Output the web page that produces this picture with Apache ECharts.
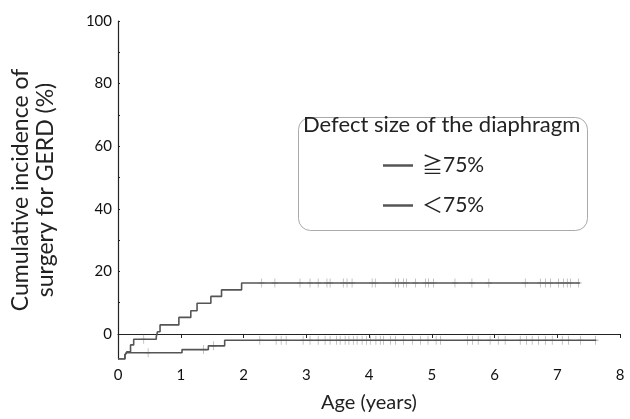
<!DOCTYPE html>
<html>
<head>
<meta charset="utf-8">
<title>GERD surgery</title>
<script src="https://cdn.jsdelivr.net/npm/echarts@6/dist/echarts.min.js"></script>
<style>
html, body { margin: 0; padding: 0; background: #fff; }
#main { width: 630px; height: 419px; }
</style>
</head>
<body>
<div id="main"></div>
<script>
// step curves (age in years, cumulative incidence)
var upperTime = [0, 0.11, 0.14, 0.20, 0.25, 0.61, 0.63, 0.67, 0.97, 1.16, 1.26, 1.48, 1.65, 1.97, 7.36];
var upperValue = [-8, -6.7, -5.7, -3.5, -1.7, -0.9, 0.7, 2.9, 5.3, 7.4, 9.8, 12.0, 14.1, 16.3, 16.3];
var lowerTime = [0, 0.11, 0.14, 1.02, 1.44, 1.70, 7.62];
var lowerValue = [-8, -6.7, -6.0, -5.0, -3.8, -2.0, -2.0];

// censored cases
var upperCensor = [0.41, 2.29, 2.50, 2.90, 3.06, 3.19, 3.33, 3.38, 3.59, 3.65, 3.73, 4.05, 4.10, 4.42, 4.47, 4.55, 4.60, 4.74, 4.90, 4.95, 5.03, 5.37, 5.64, 5.91, 6.49, 6.73, 6.81, 6.89, 7.02, 7.10, 7.16, 7.21, 7.34];
var lowerCensor = [0.48, 1.36, 1.52, 2.26, 2.52, 2.60, 2.68, 2.95, 3.06, 3.19, 3.30, 3.38, 3.48, 3.54, 3.62, 3.68, 3.75, 3.81, 3.89, 3.96, 4.02, 4.11, 4.18, 4.23, 4.34, 4.42, 4.55, 4.69, 4.82, 4.94, 5.07, 5.14, 5.57, 5.65, 5.74, 5.93, 6.06, 6.17, 6.41, 6.51, 6.60, 6.70, 6.81, 6.92, 7.08, 7.18, 7.37, 7.61];

var yLabels = [0, 20, 40, 60, 80, 100];
var yTicks = [0, 10, 20, 30, 40, 50, 60, 70, 80, 90, 100];
var seriesNames = ['≧75%', '＜75%'];

var font = 'Lato, "Noto Sans CJK JP", sans-serif';

function pairs(t, v) {
	var out = [];
	for (var i = 0; i < t.length; i++) out.push([t[i], v[i]]);
	return out;
}
// value of a step curve at time x
function stepAt(t, v, x) {
	var y = v[0];
	for (var i = 0; i < t.length; i++) {
		if (t[i] <= x) y = v[i];
	}
	return y;
}
function censorPoints(c, t, v) {
	var out = [];
	for (var i = 0; i < c.length; i++) out.push([c[i], stepAt(t, v, c[i])]);
	return out;
}

var plus = 'path://M4.4,0h1.2v4.4h4.4v1.2h-4.4v4.4h-1.2v-4.4h-4.4v-1.2h4.4z';

var myChart = echarts.init(document.getElementById('main'));
var option = {
	animation: false,
	backgroundColor: '#fff',
	textStyle: { fontFamily: font },
	grid: { left: 118, right: 10, top: 21, bottom: 60 },
	xAxis: {
		type: 'value', min: 0, max: 8, interval: 1,
		name: 'Age (years)', nameLocation: 'middle', nameGap: 34,
		nameTextStyle: { fontSize: 20, color: '#222', fontFamily: font },
		axisLine: { lineStyle: { color: '#222', width: 1.2 } },
		axisTick: { length: 4, lineStyle: { color: '#222' } },
		axisLabel: { fontSize: 15, color: '#111', margin: 9 },
		splitLine: { show: false }
	},
	yAxis: {
		type: 'value', min: -8, max: 100,
		name: 'Cumulative incidence of\nsurgery for GERD (%)', nameLocation: 'middle', nameGap: 60, nameRotate: 90,
		nameTextStyle: { fontSize: 23, color: '#222', lineHeight: 25, fontFamily: font },
		axisLine: { show: true, lineStyle: { color: '#222', width: 1.2 } },
		axisTick: { show: true, inside: true, length: 2, customValues: yTicks, lineStyle: { color: '#222' } },
		axisLabel: { fontSize: 15, color: '#111', margin: 6, customValues: yLabels },
		splitLine: { show: false }
	},
	legend: {
		data: seriesNames,
		orient: 'vertical', left: 378, top: 150,
		icon: 'rect', itemWidth: 30, itemHeight: 2.5, itemGap: 19,
		textStyle: { fontSize: 21, color: '#222', fontFamily: font, padding: [0, 0, 0, 4] }
	},
	graphic: [
		{ type: 'rect', left: 296, top: 115, shape: { width: 289, height: 113, r: 12 }, style: { fill: 'none', stroke: '#aaa', lineWidth: 1 } },
		{ type: 'text', left: 303, top: 114, style: { text: 'Defect size of the diaphragm', fontSize: 22, fill: '#222', fontFamily: font } }
	],
	series: [
		{
			name: seriesNames[0], type: 'line', step: 'end', symbol: 'none',
			data: pairs(upperTime, upperValue),
			lineStyle: { color: '#555', width: 1.6 }, itemStyle: { color: '#555' }
		},
		{
			name: seriesNames[1], type: 'line', step: 'end', symbol: 'none',
			data: pairs(lowerTime, lowerValue),
			lineStyle: { color: '#555', width: 1.6 }, itemStyle: { color: '#555' }
		},
		{
			type: 'scatter', symbol: plus, symbolSize: [6, 9],
			data: censorPoints(upperCensor, upperTime, upperValue),
			itemStyle: { color: '#999' }
		},
		{
			type: 'scatter', symbol: plus, symbolSize: [6, 9],
			data: censorPoints(lowerCensor, lowerTime, lowerValue),
			itemStyle: { color: '#999' }
		}
	]
};
myChart.setOption(option);
</script>
</body>
</html>
